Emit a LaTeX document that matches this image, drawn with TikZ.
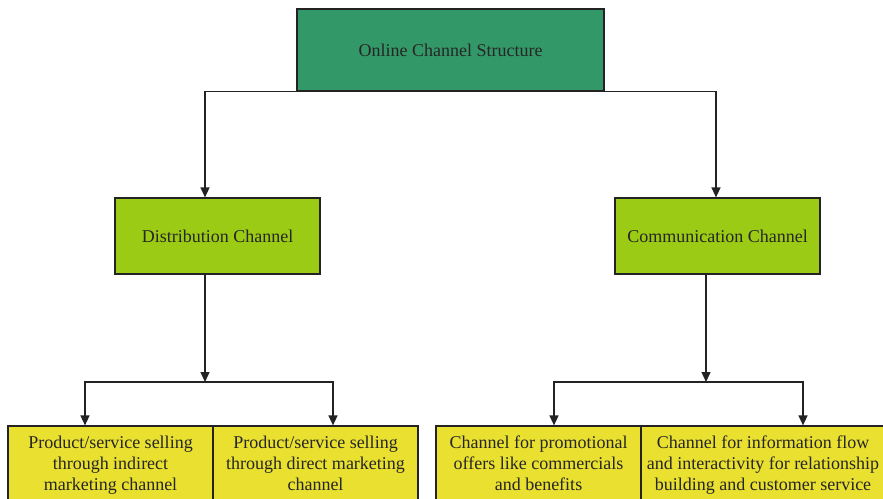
\documentclass[tikz,border=0pt]{standalone}
\usepackage{fontspec}
\setmainfont{Liberation Serif}
\usetikzlibrary{arrows.meta}
\definecolor{topgreen}{RGB}{51,152,103}
\definecolor{midgreen}{RGB}{155,203,20}
\definecolor{leafyellow}{RGB}{233,224,48}
\definecolor{edge}{RGB}{35,35,35}
\tikzset{
  box/.style={draw=edge, line width=1.2pt, inner sep=0pt, align=center,
    font=\fontsize{18}{21}\selectfont, text=black!85},
  link/.style={draw=edge, line width=1.3pt,
    -{Triangle[width=9pt,length=10pt]}}
}
\begin{document}
\begin{tikzpicture}[x=1pt,y=-1pt]
  \useasboundingbox (0,0) rectangle (883,498);
  \begin{scope}
  \clip (0,0) rectangle (883,498);
  % root
  \node[box, fill=topgreen, minimum width=307pt, minimum height=82pt]
    (root) at (450.5,50) {Online Channel Structure};
  % second level
  \node[box, fill=midgreen, minimum width=205pt, minimum height=76pt]
    (dist) at (217.5,236) {Distribution Channel};
  \node[box, fill=midgreen, minimum width=205pt, minimum height=76pt]
    (comm) at (717.5,236) {Communication Channel};
  % leaves
  \node[box, fill=leafyellow, minimum width=205pt, minimum height=78pt]
    (ind) at (110.5,465) {\strut Product/service selling\\\strut through indirect\\\strut marketing channel};
  \node[box, fill=leafyellow, minimum width=205pt, minimum height=78pt]
    (dir) at (315.5,465) {\strut Product/service selling\\\strut through direct marketing\\\strut channel};
  \node[box, fill=leafyellow, minimum width=205pt, minimum height=78pt]
    (promo) at (538.5,465) {\strut Channel for promotional\\\strut offers like commercials\\\strut and benefits};
  \node[box, fill=leafyellow, minimum width=244pt, minimum height=78pt]
    (info) at (763,465) {\strut Channel for information flow\\\strut and interactivity for relationship\\\strut building and customer service};

  % root to second level
  \draw[link] (root.south) -| ([xshift=-12.5pt]dist.north);
  \draw[link] (root.south) -| ([xshift=-1.5pt]comm.north);

  % junctions above the leaves
  \coordinate (jl) at (205,382);
  \coordinate (jr) at (706,382);
  \draw[link] ([xshift=-12.5pt]dist.south) -- (jl);
  \draw[link] ([xshift=-11.5pt]comm.south) -- (jr);
  \draw[link] (jl) -| ([xshift=-25.5pt]ind.north);
  \draw[link] (jl) -| ([xshift=17.5pt]dir.north);
  \draw[link] (jr) -| ([xshift=15.5pt]promo.north);
  \draw[link] (jr) -| ([xshift=40pt]info.north);
  \end{scope}
\end{tikzpicture}
\end{document}
